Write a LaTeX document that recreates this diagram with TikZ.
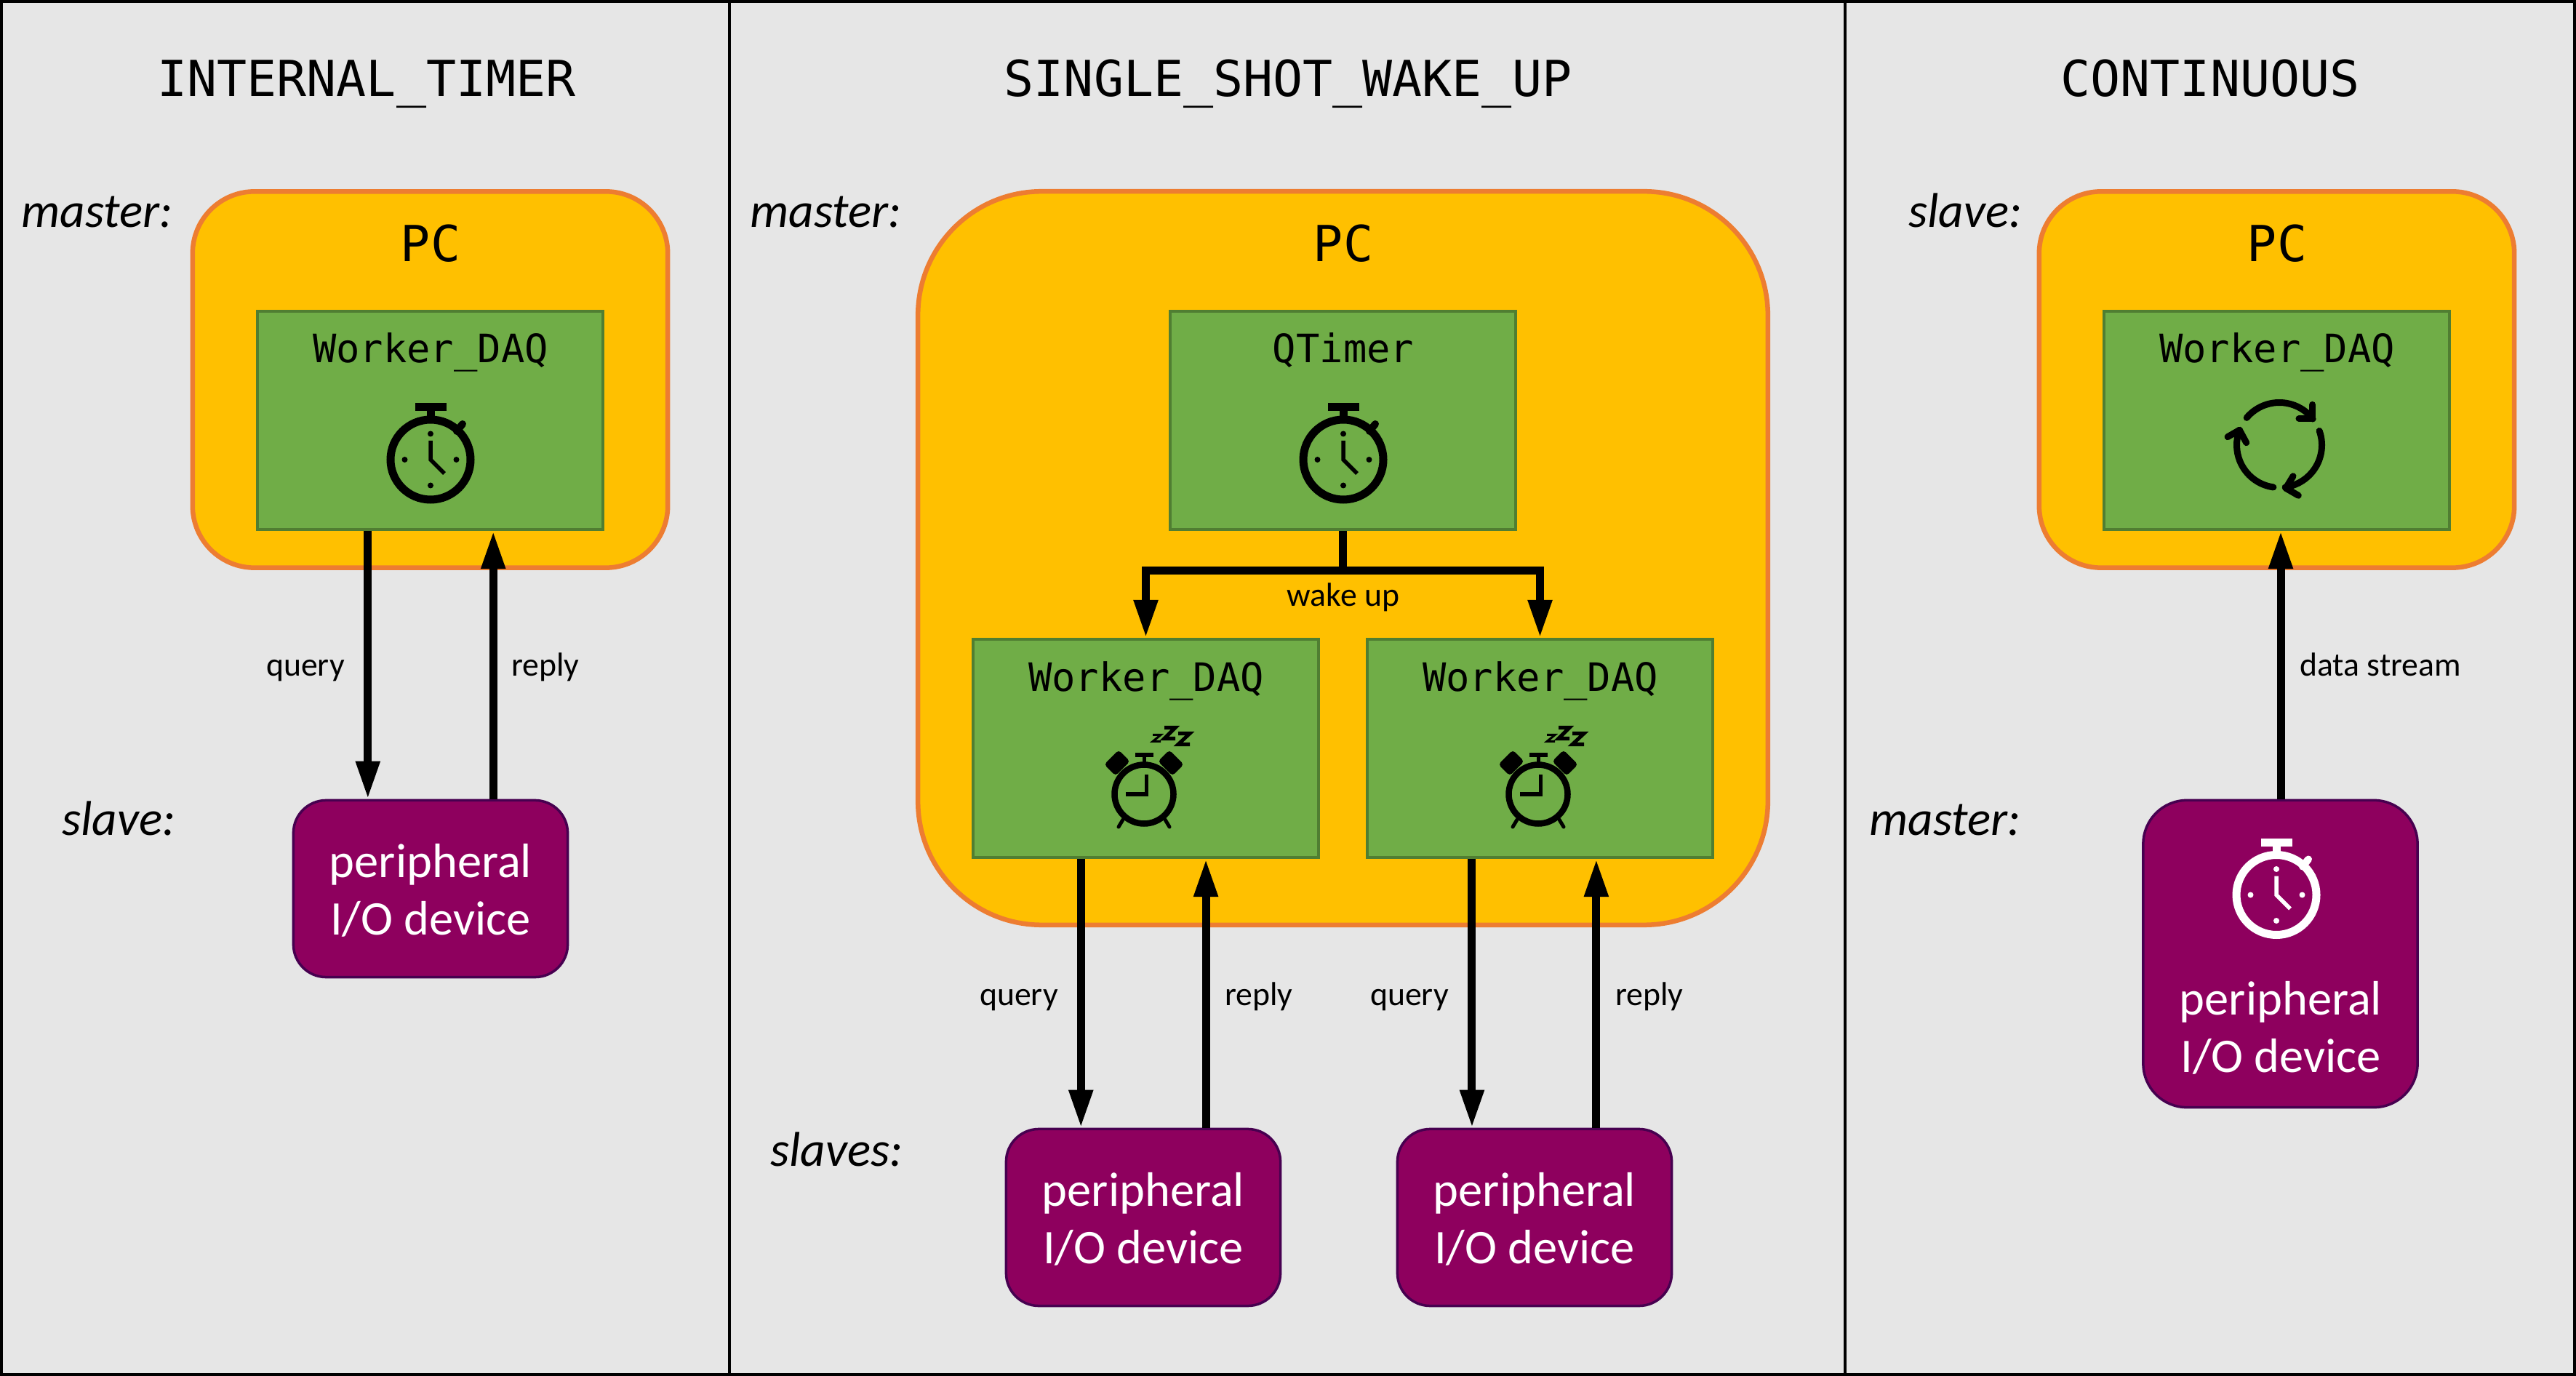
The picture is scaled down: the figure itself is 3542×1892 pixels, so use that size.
\documentclass[tikz,border=0pt]{standalone}
\usepackage{fontspec}
\setmainfont{Carlito}
\newfontfamily\monof{DejaVu Sans Mono}
\usetikzlibrary{arrows.meta,calc}
\definecolor{panelbg}{HTML}{E6E6E6}
\definecolor{pcfill}{HTML}{FFC000}
\definecolor{pcline}{HTML}{ED7D31}
\definecolor{wkfill}{HTML}{70AD47}
\definecolor{wkline}{HTML}{507E32}
\definecolor{devfill}{HTML}{8E005E}
\definecolor{devline}{HTML}{470050}
\tikzset{
  panel/.style={draw=black,fill=panelbg,line width=4*0.2845pt},
  pcbox/.style={draw=pcline,fill=pcfill,line width=6.5*0.2845pt,rounded corners=#1,inner sep=0pt},
  wkbox/.style={draw=wkline,fill=wkfill,line width=4*0.2845pt,inner sep=0pt,minimum width=4.74cm,minimum height=3.00cm},
  devbox/.style={draw=devline,fill=devfill,line width=3.5*0.2845pt,inner sep=0pt,minimum width=3.77cm,rounded corners=#1},
  title/.style={anchor=base,font=\monof\fontsize{19.4}{23}\selectfont,inner sep=0pt},
  wktext/.style={anchor=base,font=\monof\fontsize{15.3}{18}\selectfont,inner sep=0pt},
  role/.style={anchor=base east,font=\itshape\fontsize{19.1}{22}\selectfont,inner sep=0pt},
  devtext/.style={align=center,text=white,font=\fontsize{18.9}{22.5}\selectfont,inner sep=0pt},
  small/.style={anchor=base,font=\fontsize{13}{15}\selectfont,inner sep=0pt},
  wire/.style={line width=11*0.2845pt,line cap=butt,line join=miter},
  flow/.style={wire,-{Triangle[length=0.52cm,width=0.31cm]}},
}
\newcommand{\stopwatch}[3]{%
\begin{scope}[shift={(#1,#2)},y=0.01cm,#3]
  \draw[line width=11*0.2845pt] (0,0) circle[radius=55];
  \fill (-21.5,67) rectangle (21.5,78);
  \fill (-5.5,55) rectangle (5.5,68);
  \draw[line width=10*0.2845pt,line cap=round] (36,39) -- (44,49);
  \foreach \a in {0,90,180,270} \fill (\a:35.5) circle[radius=4];
  \draw[line width=5.5*0.2845pt,line join=miter] (0,26) -- (0,0) -- (19,-19);
\end{scope}}
\newcommand{\cycleicon}[2]{%
\begin{scope}[shift={(#1,#2)},y=0.01cm,line width=9*0.2845pt,line cap=round,line join=round]
  \draw (140:58.5) arc[start angle=140,end angle=38,radius=58.5];
  \draw (45.7,36.3) -- (45.7,55.6);
  \draw (45.7,36.3) -- (27,36.3);
  \draw (19.5:58.5) arc[start angle=19.5,end angle=-82,radius=58.5];
  \draw (9,-59.3) -- (19,-42.7);
  \draw (9,-59.3) -- (26.3,-69.3);
  \draw (-98:58.5) arc[start angle=-98,end angle=-200,radius=58.5];
  \draw (-54.7,20.7) -- (-71,11.3);
  \draw (-54.7,20.7) -- (-45.3,3.3);
\end{scope}}
\newcommand{\zshape}[5]{% x0 x1 y0(bottom) y1(top) width
  \draw[line width=#5*0.2845pt,line join=miter] (#1,#4) -- (#2,#4) -- (#1,#3) -- (#2,#3);}
\newcommand{\alarmicon}[2]{%
\begin{scope}[shift={(#1,#2)},y=0.01cm]
  \draw[line width=8.5*0.2845pt] (0,0) circle[radius=40.5];
  \fill (-12.5,51) rectangle (12.5,57);
  \fill (-2.5,40) rectangle (2.5,52);
  \fill[rounded corners=1.2pt,rotate around={45:(-37,43)}] (-51,32) rectangle (-23,54);
  \fill[rounded corners=1.2pt,rotate around={-45:(37,43)}] (23,32) rectangle (51,54);
  \draw[line width=5*0.2845pt,line join=miter] (3.5,26.5) -- (3.5,0) -- (-25,0);
  \draw[line width=5*0.2845pt,line cap=round] (-29,-35) -- (-35,-45);
  \draw[line width=5*0.2845pt,line cap=round] (29,-35) -- (35,-45);
  \zshape{12}{23}{72.5}{81.5}{3}
  \zshape{28}{43}{76.5}{91.5}{5}
  \zshape{47}{63}{68.5}{83.5}{5}
\end{scope}}
\begin{document}
\begin{tikzpicture}[x=0.01cm,y=-0.01cm]
\useasboundingbox (0,0) rectangle (3542,1892);
% panels
\draw[panel] (2,2) rectangle (1003,1890);
\draw[panel] (1003,2) rectangle (2537,1890);
\draw[panel] (2537,2) rectangle (3540,1890);
% titles
\node[title] (t1) at (504,133) {INTERNAL\_TIMER};
\node[title] (t2) at (1771,133) {SINGLE\_SHOT\_WAKE\_UP};
\node[title] (t3) at (3039,133) {CONTINUOUS};
% role labels
\node[role] (r1) at (238,313) {master:};
\node[role] (r2) at (242,1149) {slave:};
\node[role] (r3) at (1240,313) {master:};
\node[role] (r4) at (1242,1603) {slaves:};
\node[role] (r5) at (2781,313) {slave:};
\node[role] (r6) at (2779,1149) {master:};
% PC boxes
\node[pcbox=0.85cm,minimum width=6.53cm,minimum height=5.17cm] (pc1) at (591.5,522) {};
\node[pcbox=1.7cm,minimum width=11.68cm,minimum height=10.08cm] (pc2) at (1846.5,767.5) {};
\node[pcbox=0.85cm,minimum width=6.53cm,minimum height=5.17cm] (pc3) at (3130.5,522) {};
\node[title] (pl1) at (592,360) {PC};
\node[title] (pl2) at (1847,360) {PC};
\node[title] (pl3) at (3131,360) {PC};
% workers
\node[wkbox] (w1) at (591.5,578) {};
\node[wkbox] (q) at (1846.5,578) {};
\node[wkbox] (w2) at (1575.5,1029) {};
\node[wkbox] (w3) at (2117.5,1029) {};
\node[wkbox] (w4) at (3130.5,578) {};
\node[wktext] (wl1) at (592,499) {Worker\_DAQ};
\node[wktext] (wl2) at (1847,499) {QTimer};
\node[wktext] (wl3) at (1576,950.5) {Worker\_DAQ};
\node[wktext] (wl4) at (2118,950.5) {Worker\_DAQ};
\node[wktext] (wl5) at (3131,499) {Worker\_DAQ};
% icons
\stopwatch{592}{632}{black}
\stopwatch{1847}{632}{black}
\alarmicon{1573}{1092}
\alarmicon{2115}{1092}
\cycleicon{3134}{612}
% devices
\node[devbox=0.45cm,minimum height=2.43cm] (d1) at (592,1222) {};
\node[devbox=0.45cm,minimum height=2.43cm] (d2) at (1572,1674) {};
\node[devbox=0.45cm,minimum height=2.43cm] (d3) at (2110,1674) {};
\node[devbox=0.6cm,minimum height=4.22cm] (d4) at (3135.5,1311.5) {};
\node[devtext] (dt1) at (592,1224.5) {peripheral\\I/O device};
\node[devtext] (dt2) at (1572,1676.5) {peripheral\\I/O device};
\node[devtext] (dt3) at (2110,1676.5) {peripheral\\I/O device};
\node[devtext] (dt4) at (3136,1413) {peripheral\\I/O device};
\stopwatch{3130}{1230.5}{white}
% connectors
\coordinate (a1) at ($(w1.south west)!.3208!(w1.south east)$);
\coordinate (a2) at ($(w1.south west)!.6813!(w1.south east)$);
\draw[flow] (a1) -- (a1 |- d1.north);
\draw[flow] (a2 |- d1.north) -- (a2);
\coordinate (j) at ($(q.south)+(0,54)$);
\draw[wire] (q.south) -- (j);
\draw[flow] (j) -| (w2.north);
\draw[flow] (j) -| (w3.north);
\coordinate (b1) at ($(w2.south west)!.3134!(w2.south east)$);
\coordinate (b2) at ($(w2.south west)!.6726!(w2.south east)$);
\draw[flow] (b1) -- (b1 |- d2.north);
\draw[flow] (b2 |- d2.north) -- (b2);
\coordinate (c1) at ($(w3.south west)!.3044!(w3.south east)$);
\coordinate (c2) at ($(w3.south west)!.6618!(w3.south east)$);
\draw[flow] (c1) -- (c1 |- d3.north);
\draw[flow] (c2 |- d3.north) -- (c2);
\coordinate (e1) at ($(w4.south west)!.5115!(w4.south east)$);
\draw[flow] (e1 |- d4.north) -- (e1);
% connector labels
\node[small] (l1) at (420,930) {query};
\node[small] (l2) at (750,930) {reply};
\node[small] (l3) at (1847,834) {wake up};
\node[small] (l4) at (1401,1382) {query};
\node[small] (l5) at (1731,1382) {reply};
\node[small] (l6) at (1938,1382) {query};
\node[small] (l7) at (2268,1382) {reply};
\node[small] (l8) at (3273,930) {data stream};
\end{tikzpicture}
\end{document}
